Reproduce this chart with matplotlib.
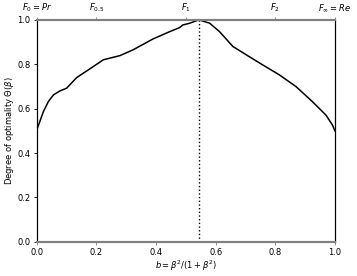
import numpy as np
import matplotlib
matplotlib.use('Agg')
import matplotlib.pyplot as plt

# Curve
b = [0.0, 0.002, 0.022, 0.039, 0.056, 0.078, 0.100, 0.134, 0.189, 0.223,
     0.279, 0.323, 0.390, 0.446, 0.479, 0.490, 0.513, 0.544, 0.580, 0.613,
     0.658, 0.713, 0.758, 0.814, 0.870, 0.925, 0.970, 0.992, 1.0]
theta = [0.50, 0.511, 0.586, 0.632, 0.662, 0.680, 0.692, 0.740, 0.789, 0.820,
         0.839, 0.865, 0.914, 0.947, 0.965, 0.977, 0.985, 1.0, 0.985, 0.947,
         0.880, 0.834, 0.797, 0.752, 0.699, 0.631, 0.571, 0.526, 0.50]
b_opt = 0.544

top_ticks = [0.0, 0.2, 0.5, 0.8, 1.0]
top_labels = [r'$F_0 = Pr$', r'$F_{0.5}$', r'$F_1$', r'$F_2$', r'$F_\infty = Re$']

GREY = '#808080'
fs = 6

fig = plt.figure(figsize=(3.57, 2.76), dpi=100)
ax = fig.add_axes([0.103, 0.124, 0.835, 0.804])
ax.plot(b, theta, color='black', lw=1.1)
ax.plot([b_opt, b_opt], [0, 1], color='black', ls=':', lw=1.0)
ax.set_xlim(0, 1)
ax.set_ylim(0, 1)
ax.set_xticks([0, 0.2, 0.4, 0.6, 0.8, 1.0])
ax.set_yticks([0, 0.2, 0.4, 0.6, 0.8, 1.0])
ax.tick_params(labelsize=fs, length=2.5, width=0.6, pad=2)
ax.tick_params(axis='x', color=GREY)
ax.set_xlabel(r'$b = \beta^2/(1+\beta^2)$', fontsize=fs, labelpad=1)
ax.set_ylabel(r'Degree of optimality $\Theta(\beta)$', fontsize=fs, labelpad=1)
ax.spines['bottom'].set_color(GREY)
ax.spines['top'].set_color(GREY)
ax.spines['bottom'].set_linewidth(1.5)
ax.spines['top'].set_linewidth(1.5)

ax2 = ax.twiny()
ax2.set_xlim(0, 1)
ax2.set_xticks(top_ticks)
ax2.set_xticklabels(top_labels, fontsize=fs)
ax2.tick_params(length=2.5, width=0.6, color=GREY, pad=2)
for s in ['top', 'bottom']:
    ax2.spines[s].set_color(GREY)
    ax2.spines[s].set_linewidth(1.5)

fig.savefig('out.png', dpi=100)
